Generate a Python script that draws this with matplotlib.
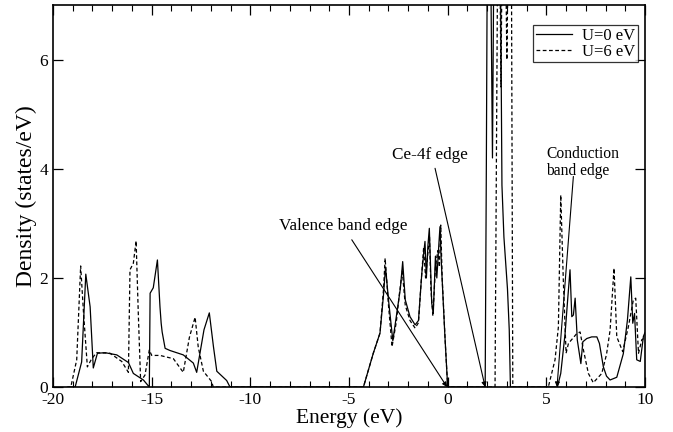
import matplotlib
matplotlib.use("Agg")
import matplotlib.pyplot as plt
from matplotlib.ticker import MultipleLocator

plt.rcParams['font.family'] = ['Liberation Serif', 'DejaVu Serif']
plt.rcParams['axes.unicode_minus'] = False

# Density of states, U=0 eV (solid), segment by segment
e_u0_low = [-19.2, -18.88, -18.55, -18.34, -18.12, -17.96, -17.75, -17.36, -16.77, -16.18,
            -15.93, -15.42, -15.12, -15.08, -14.92, -14.71, -14.58, -14.52, -14.47, -14.32,
            -14.07, -13.40, -12.89, -12.72, -12.35, -12.08, -11.87, -11.70, -11.2, -11.03]
d_u0_low = [0, 0, 0.46, 2.07, 1.47, 0.35, 0.62, 0.63, 0.59, 0.45,
            0.25, 0.13, 0, 1.72, 1.82, 2.33, 1.47, 1.17, 1.01, 0.71,
            0.67, 0.59, 0.44, 0.27, 1.05, 1.36, 0.74, 0.29, 0.12, 0]
e_u0_val = [-4.27, -3.77, -3.43, -3.25, -3.15, -3.0, -2.78, -2.6, -2.4, -2.28,
            -2.15, -1.91, -1.65, -1.48, -1.31, -1.2, -1.15, -1.08, -1.0, -0.93,
            -0.85, -0.81, -0.73, -0.62, -0.55, -0.45, -0.39, -0.32, -0.15, 0.0]
d_u0_val = [0, 0.62, 0.99, 1.7, 2.2, 1.6, 0.85, 1.3, 1.8, 2.30,
            1.6, 1.29, 1.14, 1.22, 2.09, 2.5, 2.67, 2.0, 2.6, 2.91,
            2.0, 1.54, 1.35, 2.4, 2.0, 2.6, 2.94, 2.27, 1.0, 0]
e_u0_f = [1.90, 1.96, 2.02, 2.15, 2.27, 2.36, 2.65, 2.75, 2.85, 3.03, 3.12, 3.18]
d_u0_f = [0, 4.1, 9, 9, 4.2, 9, 9, 3.7, 2.75, 1.8, 1.05, 0]
e_u0_cb = [5.56, 5.73, 5.95, 6.08, 6.20, 6.29, 6.37, 6.46, 6.57, 6.75,
           6.85, 7.05, 7.3, 7.56, 7.69, 7.89, 8.05, 8.23, 8.57, 8.9,
           9.11, 9.28, 9.38, 9.47, 9.58, 9.76, 9.92, 10.0]
d_u0_cb = [0, 0.25, 0.98, 1.6, 2.15, 1.29, 1.32, 1.63, 0.86, 0.43,
           0.83, 0.89, 0.92, 0.92, 0.80, 0.37, 0.2, 0.13, 0.18, 0.61,
           1.23, 2.02, 1.17, 1.35, 0.5, 0.47, 0.93, 1.0]

# Density of states, U=6 eV (dashed)
e_u6_low = [-19.3, -19.10, -18.80, -18.60, -18.46, -18.26, -18.04, -17.79, -17.11, -16.52,
            -16.18, -16.10, -15.93, -15.79, -15.68, -15.56, -15.34, -15.12, -15.0, -14.58,
            -13.90, -13.40, -13.09, -12.80, -12.64, -12.38, -11.96, -11.88]
d_u6_low = [0, 0, 0.5, 2.22, 1.39, 0.37, 0.52, 0.63, 0.62, 0.47,
            0.27, 2.15, 2.27, 2.68, 1.36, 0.1, 0.22, 0.68, 0.58, 0.58,
            0.52, 0.27, 0.91, 1.28, 0.73, 0.29, 0.1, 0]
e_u6_val = [-4.27, -3.77, -3.43, -3.25, -3.17, -3.0, -2.82, -2.6, -2.45, -2.3,
            -2.15, -1.91, -1.65, -1.48, -1.35, -1.22, -1.12, -1.02, -0.92, -0.85,
            -0.75, -0.62, -0.5, -0.42, -0.35, -0.28, -0.12, 0.0]
d_u6_val = [0, 0.62, 0.99, 1.8, 2.36, 1.5, 0.74, 1.2, 1.7, 2.13,
            1.5, 1.22, 1.08, 1.18, 1.9, 2.55, 2.0, 2.4, 2.75, 1.8,
            1.3, 2.2, 2.5, 2.2, 2.97, 2.0, 0.8, 0]
e_u6_f = [2.40, 2.55, 2.62, 2.7, 2.78, 2.9, 3.0, 3.1, 3.22, 3.3]
d_u6_f = [0, 9, 9, 5.5, 9, 9, 6, 9, 9, 0]
e_u6_cb = [5.10, 5.44, 5.61, 5.73, 5.86, 6.0, 6.12, 6.54, 6.71, 6.88,
           7.13, 7.38, 7.81, 8.05, 8.23, 8.43, 8.57, 8.87, 9.16, 9.41,
           9.53, 9.67, 9.84, 10.0]
d_u6_cb = [0, 0.5, 1.1, 3.52, 1.96, 0.62, 0.8, 0.98, 1.01, 0.68,
           0.25, 0.08, 0.25, 0.6, 1.04, 2.18, 0.92, 0.65, 1.11, 1.6,
           1.63, 0.62, 0.87, 0.9]

energy_u0 = e_u0_low + e_u0_val + e_u0_f + e_u0_cb
dos_u0 = d_u0_low + d_u0_val + d_u0_f + d_u0_cb
energy_u6 = e_u6_low + e_u6_val + e_u6_f + e_u6_cb
dos_u6 = d_u6_low + d_u6_val + d_u6_f + d_u6_cb

fig = plt.figure(figsize=(6.73, 4.32), dpi=100)
ax = fig.add_axes([0.0788, 0.104, 0.8796, 0.884])

ax.plot(energy_u0, dos_u0, color='black', lw=0.9, label='U=0 eV')
ax.plot(energy_u6, dos_u6, color='black', lw=0.9, linestyle=(0, (3, 2)), label='U=6 eV')

ax.set_xlim(-20, 10)
ax.set_ylim(0, 7)
ax.xaxis.set_major_locator(MultipleLocator(5))
ax.xaxis.set_minor_locator(MultipleLocator(1))
ax.yaxis.set_major_locator(MultipleLocator(2))
ax.tick_params(which='both', direction='in', top=True, right=True, labelsize=12.5)
ax.tick_params(which='major', length=7, width=0.9)
ax.tick_params(which='minor', length=4, width=0.8)
for s in ax.spines.values():
    s.set_linewidth(1.2)

ax.set_xlabel('Energy (eV)', fontsize=15.5, labelpad=0)
ax.set_ylabel('Density (states/eV)', fontsize=17, labelpad=2)

# annotations with arrows pointing at the band edges
arrow = dict(arrowstyle='-|>', lw=0.8, color='black', mutation_scale=7, shrinkA=0, shrinkB=0)
ax.annotate('', xy=(-0.03, 0), xytext=(-4.86, 2.70), arrowprops=arrow)
ax.text(-5.30, 2.95, 'Valence band edge', fontsize=12.3, ha='center', va='center')
ax.annotate('', xy=(1.9, 0), xytext=(-0.64, 4.01), arrowprops=arrow)
ax.text(-0.89, 4.26, 'Ce-4f edge', fontsize=12.3, ha='center', va='center')
ax.annotate('', xy=(5.54, 0), xytext=(6.37, 3.86), arrowprops=arrow)
ax.text(5.0, 4.42, 'Conduction\nband edge', fontsize=11.2, ha='left', va='top', linespacing=1.05)

leg = ax.legend(loc='upper right', bbox_to_anchor=(1 - 7 / 592, 1 - 20 / 382),
                fontsize=12, frameon=True, fancybox=False,
                handlelength=2.2, handletextpad=0.6, borderpad=0.15, labelspacing=0.0,
                borderaxespad=0)
leg.get_frame().set_edgecolor('black')
leg.get_frame().set_linewidth(0.9)

fig.savefig('out.png', dpi=100)
